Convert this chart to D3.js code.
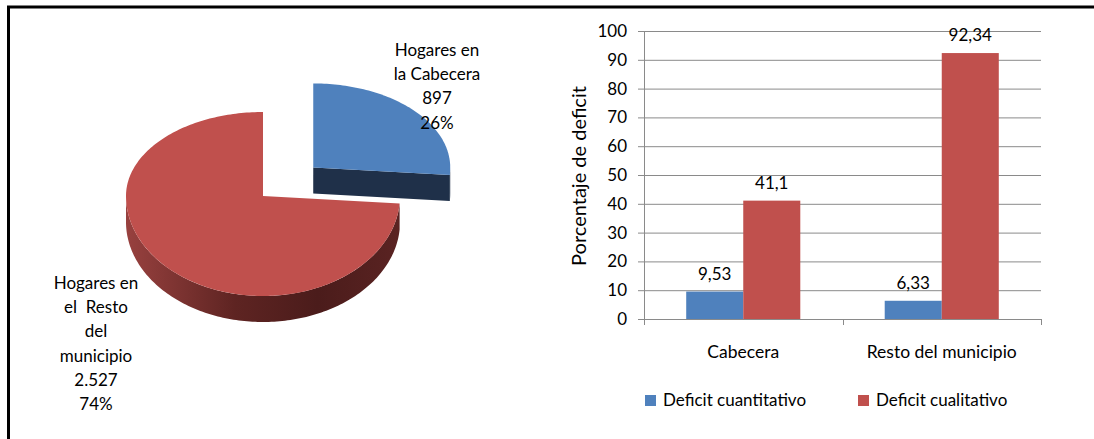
<!DOCTYPE html>
<html>
<head>
<meta charset="utf-8">
<script src="https://cdn.jsdelivr.net/npm/d3@7"></script>
<style>
  body { margin: 0; background: #fff; }
  text { font-family: Lato, "Noto Sans", sans-serif; fill: #000; }
</style>
</head>
<body>
<div id="chart"></div>
<script>
const width = 1094, height = 439;

// pie data
const pieNames = [["Hogares en", "la Cabecera"], ["Hogares en", "el  Resto", "del", "municipio"]];
const pieValues = [897, 2527];
const pieColors = ["#4f81bd", "#c0504d"];

// bar data
const categories = ["Cabecera", "Resto del municipio"];
const seriesNames = ["Deficit cuantitativo", "Deficit cualitativo"];
const cuantitativo = [9.53, 6.33];
const cualitativo = [41.1, 92.34];
const seriesColors = ["#4f81bd", "#c0504d"];
const yTicks = [0, 10, 20, 30, 40, 50, 60, 70, 80, 90, 100];

const locale = d3.formatLocale({ decimal: ",", thousands: ".", grouping: [3], currency: ["$", ""] });
const fmtInt = locale.format(",d");
const fmtVal = v => String(v).replace(".", ",");

const svg = d3.select("#chart").append("svg")
  .attr("width", width)
  .attr("height", height);

// frame
svg.append("path")
  .attr("d", `M8.5,${height} V7 H${width}`)
  .attr("fill", "none")
  .attr("stroke", "#000")
  .attr("stroke-width", 3);

// ---------- 3D pie ----------
const pie = { cx: 263, cy: 196, rx: 137, ryBack: 84, ryFront: 100, depth: 26, explode: 0.5 };

const defs = svg.append("defs");
const grad = defs.append("linearGradient").attr("id", "redSide")
  .attr("x1", "0%").attr("x2", "100%").attr("y1", "0%").attr("y2", "0%");
[["0%", "#98413f"], ["40%", "#5e2422"], ["70%", "#4b1c1b"], ["100%", "#5a2322"]]
  .forEach(s => grad.append("stop").attr("offset", s[0]).attr("stop-color", s[1]));

const sideColors = ["#1f3049", "url(#redSide)"];
const arcs = d3.pie().sort(null).value(d => d)(pieValues);
const total = d3.sum(pieValues);

function pt(a, ox, oy, dz) {
  const c = Math.cos(a);
  const ry = c > 0 ? pie.ryBack : pie.ryFront;
  return [pie.cx + ox + pie.rx * Math.sin(a), pie.cy + oy - ry * c + (dz || 0)];
}
function sample(a0, a1) {
  const n = Math.max(2, Math.ceil((a1 - a0) / 0.02));
  return d3.range(n + 1).map(i => a0 + (a1 - a0) * i / n);
}
const line = d3.line();

const pieG = svg.append("g");
arcs.forEach((d, i) => {
  const mid = (d.startAngle + d.endAngle) / 2;
  const ox = i === 0 ? pie.explode * pie.rx * Math.sin(mid) : 0;
  const oy = i === 0 ? -pie.explode * pie.ryBack * Math.cos(mid) : 0;
  const c0 = [pie.cx + ox, pie.cy + oy];
  const g = pieG.append("g");

  // outer side
  const lo = Math.max(d.startAngle, Math.PI / 2), hi = Math.min(d.endAngle, 3 * Math.PI / 2);
  if (hi > lo) {
    const top = sample(lo, hi).map(a => pt(a, ox, oy));
    const bot = sample(lo, hi).reverse().map(a => pt(a, ox, oy, pie.depth));
    g.append("path").attr("d", line(top.concat(bot)) + "Z").attr("fill", sideColors[i]);
  }
  // cut faces
  [[d.endAngle, Math.sin(d.endAngle) > 1e-6], [d.startAngle, Math.sin(d.startAngle) < -1e-6]]
    .forEach(([a, vis]) => {
      if (!vis) return;
      const p = pt(a, ox, oy);
      const quad = [c0, p, [p[0], p[1] + pie.depth], [c0[0], c0[1] + pie.depth]];
      g.append("path").attr("d", line(quad) + "Z").attr("fill", i === 0 ? "#1f3049" : "#5a2322");
    });
  // top face
  const topPts = [c0].concat(sample(d.startAngle, d.endAngle).map(a => pt(a, ox, oy)));
  g.append("path").attr("d", line(topPts) + "Z").attr("fill", pieColors[i]);
});

// pie labels
const pieLabelPos = [{ x: 437, y: 56 }, { x: 96, y: 289 }];
arcs.forEach((d, i) => {
  const lines = pieNames[i].concat([fmtInt(d.data), Math.round(d.data / total * 100) + "%"]);
  const t = svg.append("text")
    .attr("text-anchor", "middle")
    .style("font-size", "17px")
    .style("white-space", "pre");
  lines.forEach((l, j) => {
    t.append("tspan").attr("x", pieLabelPos[i].x).attr("y", pieLabelPos[i].y + j * 24.2).text(l);
  });
});

// ---------- bar chart ----------
const plot = { left: 644, right: 1041, top: 31, bottom: 319 };

const x0 = d3.scaleBand().domain(categories).range([plot.left, plot.right]);
const x1 = d3.scaleBand().domain(seriesNames).range([0, x0.bandwidth()]).paddingOuter(0.74);
const y = d3.scaleLinear().domain([0, 100]).range([plot.bottom, plot.top]);

const barG = svg.append("g");

// gridlines
barG.selectAll(".grid")
  .data(yTicks)
  .join("line")
  .attr("class", "grid")
  .attr("x1", plot.left - 6).attr("x2", plot.right)
  .attr("y1", d => y(d) + 0.5).attr("y2", d => y(d) + 0.5)
  .attr("stroke", "#8a8a8a").attr("stroke-width", 1);

// y axis line
barG.append("line")
  .attr("x1", plot.left + 0.5).attr("x2", plot.left + 0.5)
  .attr("y1", y(100)).attr("y2", y(0))
  .attr("stroke", "#8a8a8a");

// x axis category ticks
const bounds = categories.map(c => x0(c)).concat([plot.right]);
barG.selectAll(".xtick")
  .data(bounds)
  .join("line")
  .attr("x1", d => Math.round(d) + 0.5).attr("x2", d => Math.round(d) + 0.5)
  .attr("y1", y(0)).attr("y2", y(0) + 6)
  .attr("stroke", "#8a8a8a");

// y tick labels
barG.selectAll(".ylab")
  .data(yTicks)
  .join("text")
  .attr("x", plot.left - 17)
  .attr("y", d => y(d) + 6)
  .attr("text-anchor", "end")
  .style("font-size", "17px")
  .text(d => d);

// y title
svg.append("text")
  .attr("transform", `translate(586,176) rotate(-90)`)
  .attr("text-anchor", "middle")
  .style("font-size", "20px")
  .text("Porcentaje de deficit");

// bars
const series = [cuantitativo, cualitativo];
series.forEach((vals, s) => {
  barG.selectAll(".bar" + s)
    .data(categories)
    .join("rect")
    .attr("x", (c) => x0(c) + x1(seriesNames[s]))
    .attr("y", (c, i) => y(vals[i]))
    .attr("width", x1.bandwidth())
    .attr("height", (c, i) => y(0) - y(vals[i]))
    .attr("fill", seriesColors[s]);

  barG.selectAll(".val" + s)
    .data(categories)
    .join("text")
    .attr("x", (c) => x0(c) + x1(seriesNames[s]) + x1.bandwidth() / 2)
    .attr("y", (c, i) => y(vals[i]) - 12)
    .attr("text-anchor", "middle")
    .style("font-size", "17px")
    .text((c, i) => fmtVal(vals[i]));
});

// category labels
barG.selectAll(".cat")
  .data(categories)
  .join("text")
  .attr("x", c => x0(c) + x0.bandwidth() / 2)
  .attr("y", 358)
  .attr("text-anchor", "middle")
  .style("font-size", "17.5px")
  .text(c => c);

// legend
const legendX = [645, 858];
seriesNames.forEach((n, s) => {
  svg.append("rect")
    .attr("x", legendX[s]).attr("y", 395)
    .attr("width", 11).attr("height", 11)
    .attr("fill", seriesColors[s]);
  svg.append("text")
    .attr("x", legendX[s] + 18).attr("y", 406)
    .style("font-size", "17px")
    .text(n);
});
</script>
</body>
</html>
